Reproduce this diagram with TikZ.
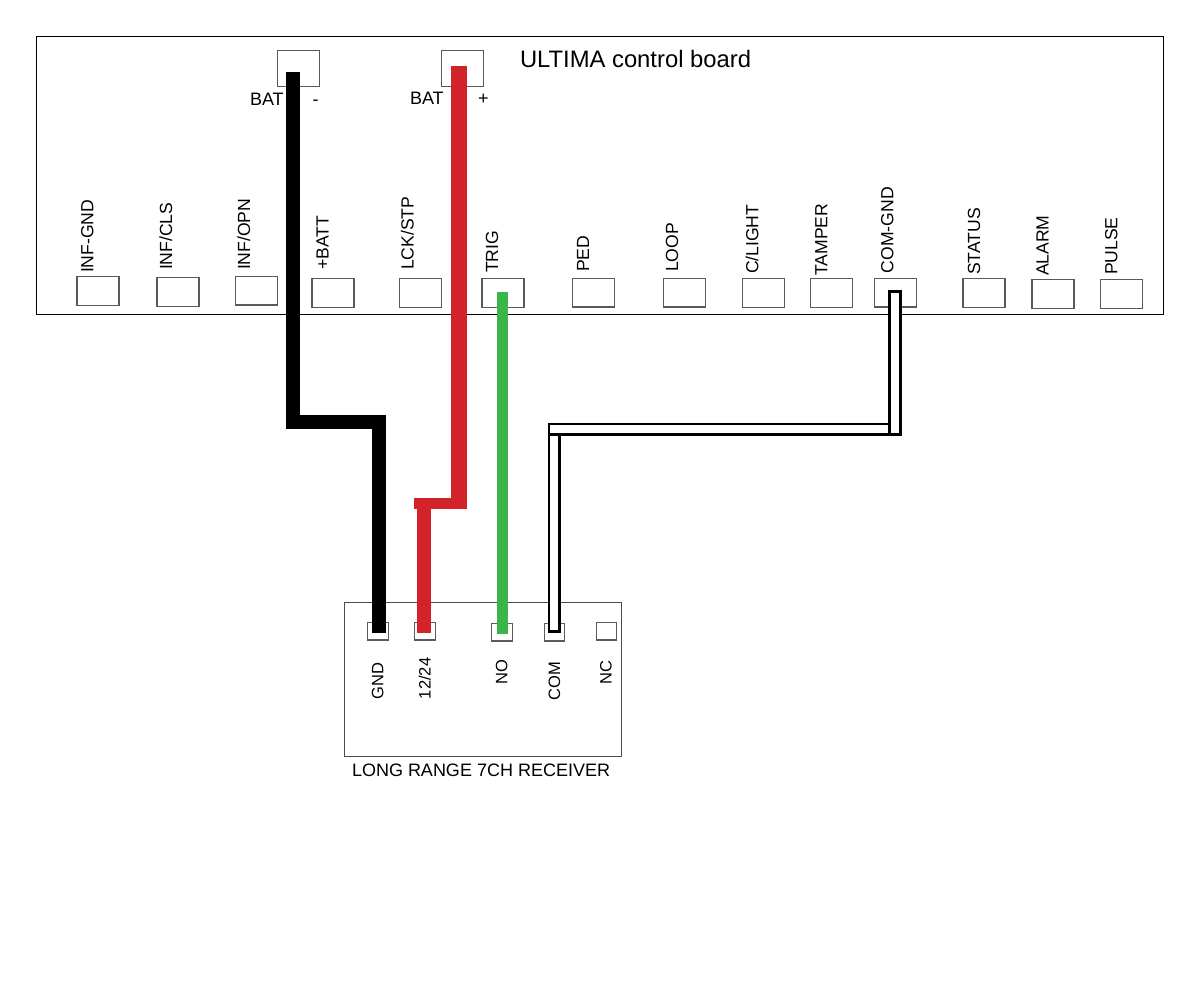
\documentclass[tikz,border=0pt]{standalone}
\usepackage{fontspec}
\setmainfont{Liberation Sans}
\definecolor{wirered}{HTML}{D2232A}
\definecolor{wiregreen}{HTML}{39B54A}
\definecolor{termline}{HTML}{5A5A5A}
\tikzset{
  board/.style={draw=black,line width=1pt,fill=none,inner sep=0pt,outer sep=0pt},
  recvbox/.style={draw=black!70,line width=1pt,inner sep=0pt,outer sep=0pt},
  term/.style={draw=termline,line width=1.1pt,fill=white,inner sep=0pt,outer sep=0pt,minimum width=42pt,minimum height=28.5pt},
  topterm/.style={term,minimum height=36pt},
  smallterm/.style={term,minimum width=20.5pt,minimum height=17.5pt},
  vlabel/.style={rotate=90,anchor=base west,inner sep=0pt,outer sep=0pt,font=\fontsize{17.6}{20}\selectfont},
  rlabel/.style={vlabel,font=\fontsize{16.5}{19}\selectfont},
  hlabel/.style={anchor=base west,inner sep=0pt,outer sep=0pt,font=\fontsize{18}{21}\selectfont},
  blackwire/.style={draw=black,line width=13.8pt,line cap=butt,line join=miter},
  redwire/.style={draw=wirered,line cap=butt,line join=miter},
  greenwire/.style={draw=wiregreen,line width=11pt,line cap=butt},
  whitewire/.style={draw=black,fill=white,line width=2.8pt,line join=miter}
}
\begin{document}
\begin{tikzpicture}[x=1pt,y=-1pt]
\useasboundingbox[fill=white] (0,0) rectangle (1200,1000);
% boards
\coordinate (boardA) at (36.5,36.5);
\coordinate (boardB) at (1163.5,314.5);
\draw[board] (boardA) rectangle (boardB);
\coordinate (recvA) at (344.5,602.5);
\coordinate (recvB) at (621.5,756.5);
\draw[recvbox] (recvA) rectangle (recvB);
% top terminals
\node[topterm] (batneg) at (298.5,68.5) {};
\node[topterm] (batpos) at (462.5,68.5) {};
% board terminals
\node[term] (tinfgnd) at (98,291) {};
\node[term] (tinfcls) at (178,292) {};
\node[term] (tinfopn) at (256.3,290.8) {};
\node[term] (tbatt) at (333,293.2) {};
\node[term] (tlck) at (420.8,293.2) {};
\node[term] (ttrig) at (503,293.2) {};
\node[term] (tped) at (593.5,292.8) {};
\node[term] (tloop) at (684.5,292.8) {};
\node[term] (tclight) at (763.2,293.2) {};
\node[term] (ttamper) at (831.5,293.2) {};
\node[term] (tcomgnd) at (895.8,292.8) {};
\node[term] (tstatus) at (984,293.2) {};
\node[term] (talarm) at (1053,294.2) {};
\node[term] (tpulse) at (1121.5,294.2) {};
% receiver terminals
\node[smallterm] (rgnd) at (378,631.2) {};
\node[smallterm] (rpow) at (424.8,631.2) {};
\node[smallterm] (rno) at (502,632.2) {};
\node[smallterm] (rcom) at (554.5,632.2) {};
\node[smallterm] (rnc) at (606.5,631.2) {};
% labels
\node[vlabel] (linfgnd) at (93.3,273) {INF-GND};
\node[vlabel] (linfcls) at (172,270) {INF/CLS};
\node[vlabel] (linfopn) at (250,270) {INF/OPN};
\node[vlabel] (lbatt) at (328.5,270) {+BATT};
\node[vlabel] (llck) at (413.5,270) {LCK/STP};
\node[vlabel] (ltrig) at (498,273) {TRIG};
\node[vlabel] (lped) at (589,272) {PED};
\node[vlabel] (lloop) at (678,272) {LOOP};
\node[vlabel] (lclight) at (758.3,274) {C/LIGHT};
\node[vlabel] (ltamper) at (827.3,275.7) {TAMPER};
\node[vlabel] (lcomgnd) at (893.3,273.3) {COM-GND};
\node[vlabel] (lstatus) at (980,275) {STATUS};
\node[vlabel] (lalarm) at (1048.7,276) {ALARM};
\node[vlabel] (lpulse) at (1117.3,275) {PULSE};
\node[rlabel] (lgnd) at (383.3,699.3) {GND};
\node[rlabel] (lpow) at (430.7,699) {12/24};
\node[rlabel] (lno) at (507.3,684) {NO};
\node[rlabel] (lcom) at (560,700.7) {COM};
\node[rlabel] (lnc) at (611.7,684) {NC};
\node[hlabel] (lrecv) at (352,776.7) {LONG RANGE 7CH RECEIVER};
\node[hlabel] (lbatn) at (250,106) {BAT};
\node[hlabel] (lminus) at (312.5,106) {-};
\node[hlabel] (lbatp) at (410,105) {BAT};
\node[hlabel] (lplus) at (478,105) {+};
\node[hlabel,font=\fontsize{23.8}{27}\selectfont] (ltitle) at (520,67.7) {ULTIMA control board};
% black wire
\coordinate (k1) at (293.3,72);
\coordinate (k2) at (293.3,422);
\coordinate (k3) at (379.3,422);
\coordinate (k4) at (379.3,633);
\draw[blackwire] (k1) -- (k2) -- (k3) -- (k4);
% red wire
\coordinate (r1) at (459,66);
\coordinate (r2) at (459,509);
\coordinate (r3) at (414,503.3);
\coordinate (r4) at (467,503.3);
\coordinate (r5) at (424,503);
\coordinate (r6) at (424,632.7);
\draw[redwire,line width=16pt] (r1) -- (r2);
\draw[redwire,line width=11.5pt] (r3) -- (r4);
\draw[redwire,line width=13.5pt] (r5) -- (r6);
% green wire
\coordinate (g1) at (502.8,292);
\coordinate (g2) at (502.8,634);
\draw[greenwire] (g1) -- (g2);
% white wire
\coordinate (w1) at (889.5,291.5);
\coordinate (w2) at (900.3,434.3);
\coordinate (w3) at (549,424);
\coordinate (w4) at (889.5,434.3);
\coordinate (w5) at (549,424);
\coordinate (w6) at (559.6,631.5);
\draw[whitewire] (w5) rectangle (w6);
\draw[whitewire] (w3) rectangle (w4);
\draw[whitewire] (w1) rectangle (w2);
\end{tikzpicture}
\end{document}
